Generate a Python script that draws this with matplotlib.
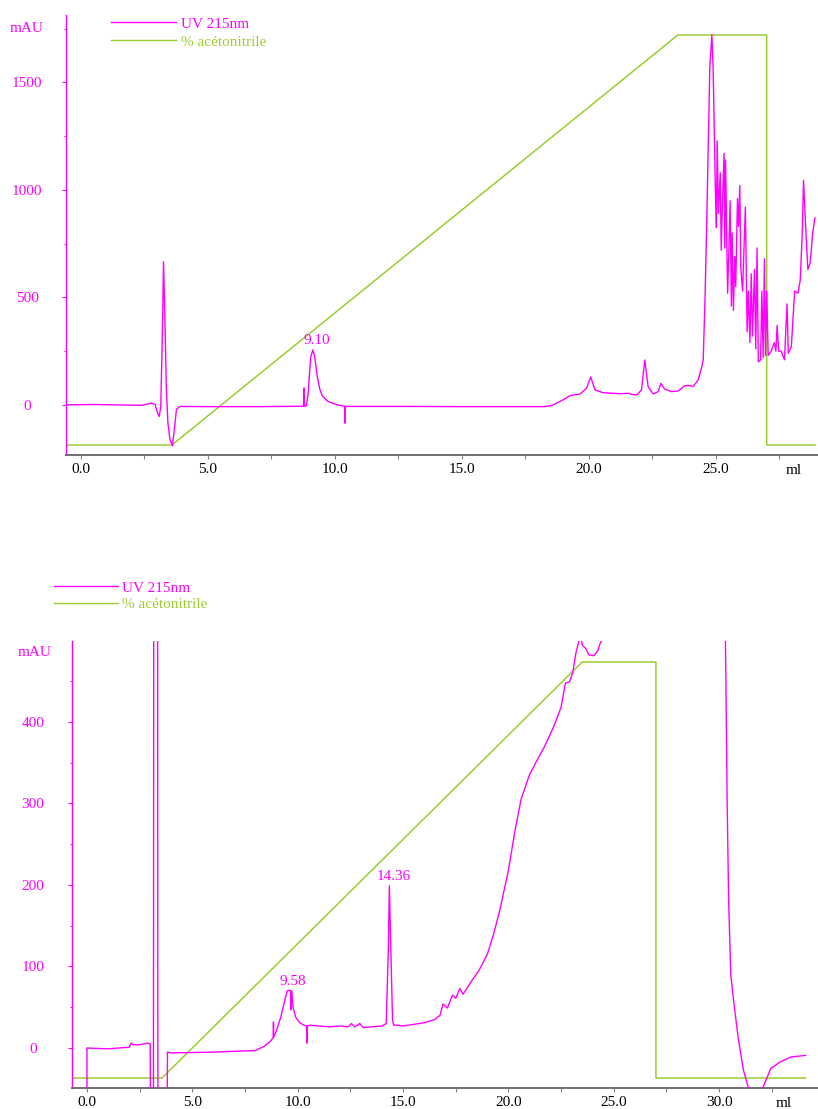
import matplotlib
matplotlib.use('Agg')
import matplotlib.pyplot as plt
import matplotlib.transforms as mtransforms
from matplotlib.ticker import MultipleLocator, FormatStrFormatter
from matplotlib.lines import Line2D

MAG = '#FF00FF'
GRN = '#9ACD32'
FONT = 'Liberation Serif'
plt.rcParams['font.family'] = [FONT, 'DejaVu Serif']

# ---------------- Top chromatogram ----------------
top_uv_ml = [-0.6, 0.5, 1.5, 2.4, 2.6, 2.78, 2.92, 3.02, 3.08, 3.14, 3.2, 3.25, 3.3, 3.36, 3.42,
             3.5, 3.6, 3.68, 3.76, 3.9, 5.0, 7.0, 8.76, 8.78, 8.8, 8.88, 8.95, 9.0, 9.05, 9.13,
             9.2, 9.3, 9.4, 9.5, 9.7, 9.9, 10.1, 10.3, 10.38, 10.39, 10.41, 11.0, 13.0, 15.0,
             17.0, 18.19, 18.5, 18.73, 19.0, 19.25, 19.65, 19.91, 20.07, 20.24, 20.55, 20.94,
             21.22, 21.55, 21.74, 21.9, 22.07, 22.2, 22.33, 22.53, 22.73, 22.83, 22.99, 23.25,
             23.52, 23.78, 23.98, 24.1, 24.3, 24.43, 24.5, 24.57, 24.63, 24.76, 24.84, 24.89,
             24.98, 25.02, 25.05, 25.1, 25.17, 25.21, 25.26, 25.32, 25.35, 25.38, 25.46, 25.51,
             25.56, 25.61, 25.64, 25.69, 25.74, 25.78, 25.85, 25.89, 25.94, 25.98, 26.05, 26.16,
             26.23, 26.28, 26.34, 26.39, 26.44, 26.52, 26.57, 26.62, 26.67, 26.76, 26.81, 26.86,
             26.91, 26.95, 27.0, 27.06, 27.18, 27.3, 27.36, 27.41, 27.47, 27.57, 27.7, 27.8,
             27.85, 27.97, 28.1, 28.23, 28.32, 28.4, 28.45, 28.53, 28.62, 28.71, 28.81, 28.9]
top_uv_mau = [0, 2, 0, -2, 4, 8, 2, -40, -54, -10, 300, 666, 420, 80, -80,
              -160, -190, -110, -20, -7, -8, -8, -6, 79, -6, -4, 60, 150, 225, 256,
              225, 135, 75, 42, 18, 8, 0, -4, -6, -85, -7, -7, -7, -8,
              -8, -8, -4, 8, 25, 43, 51, 78, 130, 70, 57, 54,
              52, 54, 48, 47, 70, 209, 85, 51, 62, 100, 73, 62,
              65, 90, 90, 85, 116, 170, 209, 488, 800, 1572, 1721, 1570,
              1000, 825, 1228, 890, 1080, 720, 950, 1170, 730, 1140, 520, 710,
              950, 460, 800, 440, 690, 550, 960, 830, 1020, 640, 530, 920,
              340, 530, 290, 610, 320, 630, 260, 730, 200, 210, 530, 220,
              680, 230, 530, 230, 250, 290, 250, 370, 250, 250, 210, 470,
              240, 270, 530, 520, 580, 800, 1045, 840, 630, 660, 800, 870]
top_acn_ml = [-0.6, 3.58, 23.5, 27.0, 27.0, 28.9]
top_acn_pct = [0, 0, 100, 100, 0, 0]
top_peak_labels = [(9.29, '9.10', 298)]

# ---------------- Bottom chromatogram ----------------
bot_uv_ml = [0.0, 0.0, 1.0, 2.0, 2.1, 2.2, 2.5, 2.9, 3.0, 3.05, 3.15, 3.22, 3.3, 3.37, 3.6, 3.76,
             3.82, 4.0, 6.0, 8.0, 8.4, 8.7, 8.84, 8.85, 8.86, 9.0, 9.2, 9.4, 9.5, 9.6, 9.66, 9.68,
             9.72, 9.78, 9.9, 10.1, 10.3, 10.42, 10.44, 10.46, 10.6, 11.0, 11.5, 12.0, 12.4,
             12.55, 12.7, 12.95, 13.1, 13.5, 14.0, 14.2, 14.3, 14.35, 14.42, 14.5, 14.55, 14.7,
             15.0, 15.5, 16.0, 16.5, 16.75, 16.9, 17.1, 17.35, 17.5, 17.7, 17.85, 18.0, 18.27,
             18.6, 19.0, 19.3, 19.6, 20.0, 20.3, 20.6, 21.0, 21.3, 21.7, 22.15, 22.5, 22.7,
             22.9, 23.05, 23.2, 23.34, 23.38, 23.43, 23.5, 23.66, 23.82, 24.05, 24.24, 24.35,
             24.45, 24.6, 25.0, 26.0, 28.0, 29.5, 30.1, 30.25, 30.32, 30.38, 30.45, 30.55, 30.7,
             30.9, 31.15, 31.4, 31.7, 32.05, 32.45, 32.9, 33.4, 34.1]
bot_uv_mau = [-300, 0, -1, 1, 6, 4, 4, 6, 5, -300, -300, 3000, 3000, -300, -300, -300,
              -5, -6, -5, -3, 2, 8, 13, 32, 13, 22, 38, 60, 70, 71, 70, 47,
              70, 50, 38, 31, 28, 27, 6, 27, 28, 27, 26, 27, 26,
              30, 26, 30, 25, 26, 27, 30, 120, 199, 120, 35, 28, 28,
              27, 29, 31, 35, 40, 54, 49, 65, 61, 73, 66, 72, 83,
              95, 115, 140, 170, 218, 265, 305, 335, 350, 369, 394, 418, 447,
              449, 460, 484, 498, 520, 515, 494, 490, 482, 481, 487, 496,
              500, 560, 800, 1000, 1000, 900, 700, 600, 450, 300, 180, 90, 55,
              13, -27, -50, -65, -50, -25, -17, -11, -9]
bot_acn_ml = [-0.71, 3.56, 23.5, 27.0, 27.0, 34.1]
bot_acn_pct = [0, 0, 100, 100, 0, 0]
bot_peak_labels = [(9.78, '9.58', 82), (14.57, '14.36', 210)]

W, H = 818, 1109
fig = plt.figure(figsize=(W / 100, H / 100), dpi=100)


def px_axes(l, t, r, b):
    return fig.add_axes([l / W, 1 - b / H, (r - l) / W, (b - t) / H])


def style(ax, xlim, ylim, ymaj, ymin):
    ax.set_xlim(xlim)
    ax.set_ylim(ylim)
    ax.patch.set_alpha(0)
    for s in ['top', 'right']:
        ax.spines[s].set_visible(False)
    ax.spines['left'].set_color(MAG)
    ax.spines['left'].set_linewidth(1.0)
    ax.spines['bottom'].set_color('#707070')
    ax.spines['bottom'].set_linewidth(1.4)
    ax.xaxis.set_major_locator(MultipleLocator(5))
    ax.xaxis.set_minor_locator(MultipleLocator(2.5))
    ax.xaxis.set_major_formatter(FormatStrFormatter('%.1f'))
    ax.tick_params(axis='x', which='both', direction='out', length=3, width=0.8,
                   color='#808080', labelsize=11, labelcolor='black', pad=3.0)
    ax.yaxis.set_major_locator(MultipleLocator(ymaj))
    ax.yaxis.set_minor_locator(MultipleLocator(ymin))
    ax.tick_params(axis='y', which='major', direction='out', length=3, width=0.8,
                   color=MAG, labelsize=11, labelcolor=MAG, pad=25)
    ax.tick_params(axis='y', which='minor', direction='out', length=1.5, width=0.8,
                   color=MAG)
    for lab in ax.get_yticklabels():
        lab.set_horizontalalignment('center')


def acn_axis(ax, lo, hi):
    a2 = ax.twinx()
    a2.set_ylim(lo, hi)
    a2.set_axis_off()
    return a2


def ml_label(ax, x, y):
    tr = ax.transData + mtransforms.ScaledTranslation(0, -6.5 / 72, fig.dpi_scale_trans)
    ax.text(x, y, 'ml', color='black', fontsize=11, ha='center', va='top',
            transform=tr, clip_on=False)


# ---- top
ax1 = px_axes(66, 15, 818, 455)
style(ax1, (-0.59, 29.02), (-233, 1814), 500, 250)
ax1b = acn_axis(ax1, -2.44, 104.88)
ax1b.plot(top_acn_ml, top_acn_pct, color=GRN, lw=1.1, zorder=2)
ax1.set_zorder(ax1b.get_zorder() + 1)
ax1.plot(top_uv_ml, top_uv_mau, color=MAG, lw=1.0, zorder=3)
for xm, txt, yv in top_peak_labels:
    ax1.text(xm, yv, txt, color=MAG, fontsize=11, ha='center', va='center')
ax1.text(-0.59 - 39 / 25.4, 1753, 'mAU', color=MAG, fontsize=11, ha='center', va='center',
         clip_on=False)
ml_label(ax1, 28.05, -233)

# ---- bottom
ax2 = px_axes(72, 641, 818, 1088)
style(ax2, (-0.71, 34.69), (-49, 499), 100, 50)
ax2b = acn_axis(ax2, -2.40, 105.05)
ax2b.plot(bot_acn_ml, bot_acn_pct, color=GRN, lw=1.1, zorder=2)
ax2.set_zorder(ax2b.get_zorder() + 1)
ax2.plot(bot_uv_ml, bot_uv_mau, color=MAG, lw=1.0, zorder=3)
for xm, txt, yv in bot_peak_labels:
    ax2.text(xm, yv, txt, color=MAG, fontsize=11, ha='center', va='center')
ax2.text(-0.71 - 37 / 21.07, 485, 'mAU', color=MAG, fontsize=11, ha='center', va='center',
         clip_on=False)
ml_label(ax2, 33.05, -49)

# ---- legends (figure pixel coordinates)
def legend(x0, x1, y_uv, y_acn, xt):
    for y, c, txt in ((y_uv, MAG, 'UV 215nm'), (y_acn, GRN, '% acétonitrile')):
        fig.add_artist(Line2D([x0 / W, x1 / W], [1 - y / H, 1 - y / H], color=c, lw=1.0))
        fig.text(xt / W, 1 - (y + 2) / H, txt, color=c, fontsize=11, ha='left', va='center')

legend(111, 176, 22, 40, 181)
legend(54, 118, 586, 603, 122)

fig.savefig('out.png', dpi=100)
